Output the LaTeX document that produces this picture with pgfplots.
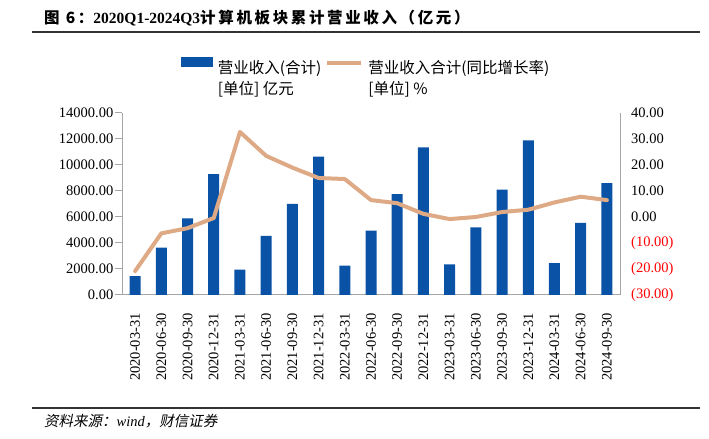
\documentclass[border=0pt]{standalone}
\usepackage{fontspec}
\setmainfont{Liberation Serif}
\newfontfamily\cjk{Noto Sans CJK SC}
\newfontfamily\cjktitle{Noto Sans CJK SC}[LetterSpace=17]
\newfontfamily\cjkit{Noto Sans CJK SC}[FakeSlant=0.2]
\usepackage{pgfplots}
\usepackage{pgfplotstable}
\pgfplotsset{compat=1.18}

\definecolor{barblue}{RGB}{10,82,166}
\definecolor{linetan}{RGB}{222,170,134}
\definecolor{axgray}{RGB}{165,165,165}

% idx: quarter index, rev: cumulative revenue (100m yuan), yoy: growth (%)
\pgfplotstableread{
idx rev   yoy
0   1450  -20.8
1   3650  -6.3
2   5900  -4.3
3   9300  -0.4
4   1950  32.7
5   4550  23.5
6   7000  19.0
7   10650 15.0
8   2250  14.6
9   4950  6.5
10  7750  5.3
11  11350 1.2
12  2350  -0.8
13  5200  0.0
14  8100  1.9
15  11900 2.8
16  2450  5.6
17  5550  7.8
18  8600  6.5
}\datatab

\newcommand{\twoline}[2]{\begin{tabular}[t]{@{}l@{}}#1\\{#2}\end{tabular}}

\begin{document}
\begin{tikzpicture}[x=1bp,y=1bp]
\path[use as bounding box] (0,0) rectangle (709,439);

% title and rules
\node[anchor=base west, inner sep=0pt, font=\fontsize{15.5bp}{18bp}\selectfont\bfseries] at (44,415)
  {{\cjktitle 图 6：}2020Q1-2024Q3{\cjktitle 计算机板块累计营业收入（亿元）}};
\draw[line width=2bp, black!80] (32,407) -- (700,407);
\draw[line width=2bp, black!80] (32,31) -- (700,31);
\node[anchor=base west, inner sep=0pt, font=\fontsize{14.5bp}{17bp}\selectfont] at (44,12)
  {{\cjkit 资料来源：}\textit{wind}{\cjkit ，财信证券}};

\begin{axis}[
    at={(122bp,144bp)}, anchor=south west,
    scale only axis, width=498bp, height=182bp,
    xmin=-0.5, xmax=18.5,
    ymin=0, ymax=14000,
    scaled y ticks=false,
    axis x line*=bottom, axis y line*=left,
    axis line style={axgray, line width=1bp},
    tick style={axgray, line width=1bp},
    tick align=outside,
    ytick={0,2000,...,14000},
    yticklabels={0.00,2000.00,4000.00,6000.00,8000.00,10000.00,12000.00,14000.00},
    major tick length=7bp,
    yticklabel style={inner sep=1.5bp},
    xtick={0,...,18},
    xticklabels={2020-03-31,2020-06-30,2020-09-30,2020-12-31,2021-03-31,2021-06-30,2021-09-30,2021-12-31,2022-03-31,2022-06-30,2022-09-30,2022-12-31,2023-03-31,2023-06-30,2023-09-30,2023-12-31,2024-03-31,2024-06-30,2024-09-30},
    x tick style={draw=none},
    minor xtick={-0.5,0.5,...,18.5},
    minor x tick style={axgray, line width=1bp},
    minor tick length=5bp,
    xticklabel style={rotate=90, anchor=east, inner sep=0pt},
    xticklabel shift=11bp,
    ticklabel style={font=\fontsize{14.5bp}{17bp}\selectfont},
    legend columns=2,
    legend cell align=left,
    legend style={at={(0.118,1.31)}, anchor=north west, draw=none, fill=none,
        inner sep=0pt, font=\fontsize{15.5bp}{21bp}\selectfont\cjk,
        /tikz/every odd column/.append style={column sep=3bp},
        /tikz/every even column/.append style={column sep=2bp}},
]
\addplot[ybar, bar width=11bp, fill=barblue, draw=none,
    legend image code/.code={\fill[barblue] (0bp,0bp) rectangle (32bp,10bp);}]
    table[x=idx, y=rev] {\datatab};
\addlegendentry{\twoline{营业收入(合计)}{[单位] 亿元}}
\addlegendimage{legend image code/.code={\draw[linetan, line width=4bp] (0bp,4bp) -- (34bp,4bp);}}
\addlegendentry{\twoline{营业收入合计(同比增长率)}{[单位] \%}}
\end{axis}

\begin{axis}[
    at={(122bp,144bp)}, anchor=south west,
    scale only axis, width=498bp, height=182bp,
    xmin=-0.5, xmax=18.5,
    ymin=-30, ymax=40,
    axis x line=none, axis y line*=right,
    axis line style={axgray, line width=1bp},
    ytick={-30,-20,...,40},
    yticklabels={{\color{red}(30.00)},{\color{red}(20.00)},{\color{red}(10.00)},0.00,10.00,20.00,30.00,40.00},
    major tick length=0pt,
    yticklabel style={anchor=west, inner sep=0pt, xshift=11bp, font=\fontsize{14.5bp}{17bp}\selectfont},
]
\addplot[linetan, line width=4bp, line join=round, line cap=round, mark=none]
    table[x=idx, y=yoy] {\datatab};
\end{axis}
\end{tikzpicture}
\end{document}
